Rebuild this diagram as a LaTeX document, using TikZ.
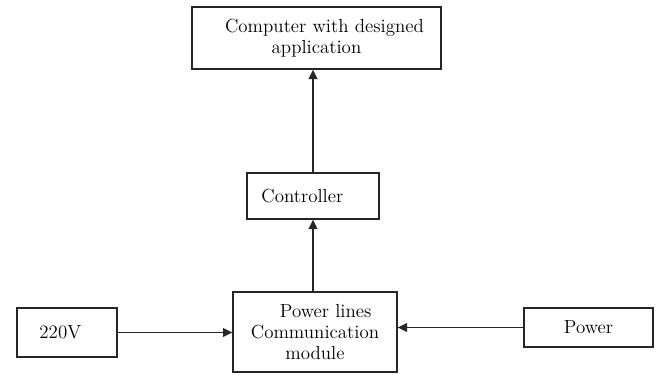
\documentclass[tikz,border=0pt]{standalone}
\usetikzlibrary{arrows.meta}
\begin{document}
\begin{tikzpicture}[x=0.75pt,y=-0.75pt,
  blk/.style={draw=black!85, line width=1pt, rectangle, inner sep=0pt, align=center,
    font=\fontsize{14.2}{16}\selectfont},
  conn/.style={draw=black!85, line width=1pt, -{Triangle[length=7pt,width=6.5pt]}}]
\useasboundingbox (0,0) rectangle (662,375);
\node[blk, minimum width=249*0.75pt, minimum height=62*0.75pt] (comp) at (316.5,38)
  {\hspace*{12pt}Computer with designed\\application};
\node[blk, minimum width=132*0.75pt, minimum height=46*0.75pt] (ctrl) at (313,196)
  {\raisebox{1pt}{Controller}\hspace*{16pt}};
\node[blk, minimum width=164*0.75pt, minimum height=80*0.75pt] (plc) at (315,332)
  {\hspace*{16pt}Power lines\\Communication\\module};
\node[blk, minimum width=100*0.75pt, minimum height=49*0.75pt] (v220) at (67,332.5)
  {220V\hspace*{10pt}\raisebox{5pt}{}};
\node[blk, minimum width=129*0.75pt, minimum height=39*0.75pt] (pow) at (588.5,327.5)
  {Power};
\draw[conn] (ctrl.north) -- (ctrl.north |- comp.south);
\draw[conn] ([xshift=-1.5pt]plc.north) -- ([xshift=-1.5pt]plc.north |- ctrl.south);
\draw[conn] (v220.east) -- (v220.east -| plc.west);
\draw[conn] (pow.west) -- (pow.west -| plc.east);
\end{tikzpicture}
\end{document}
